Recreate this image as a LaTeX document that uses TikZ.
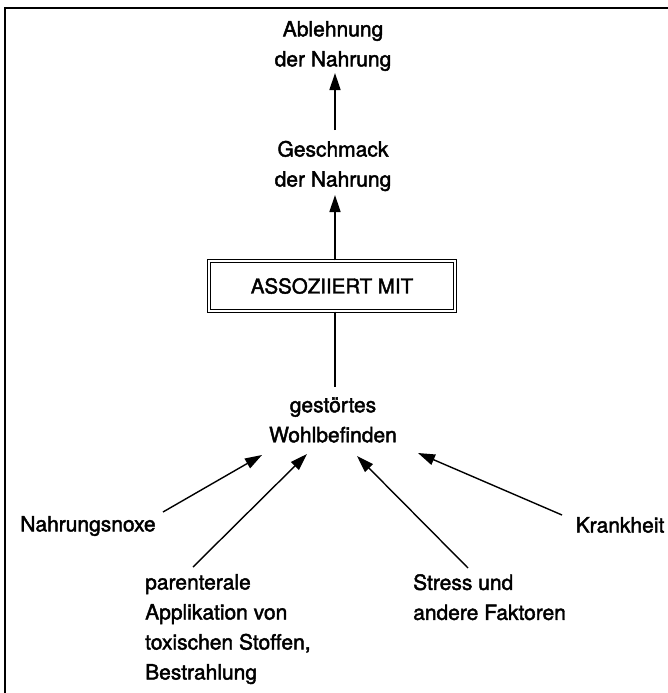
\documentclass[tikz,border=0pt]{standalone}
\usepackage{fontspec}
\setmainfont{TeX Gyre Heros}[FakeBold=2]
\usetikzlibrary{arrows.meta}
\begin{document}
\begin{tikzpicture}[x=1pt,y=-1pt,
  lbl/.style={font=\fontsize{21}{30}\selectfont, align=center, inner sep=0pt},
  lbll/.style={font=\fontsize{21}{30}\selectfont, align=left, inner sep=0pt, anchor=north west},
  ln/.style={line width=1.4pt},
  arr/.style={line width=1.4pt, -{Triangle[length=17pt,width=11pt]}},
  dbox/.style={draw, double, line width=1.1pt, double distance=2.2pt, minimum width=246pt, minimum height=50pt, inner sep=0pt, font=\fontsize{20.5}{24}\selectfont}]
\useasboundingbox (0,0) rectangle (668,693);
\draw[ln] (5,693) -- (5,8) -- (668,8);

\node[lbl] (abl) at (333,46) {Ablehnung\\der Nahrung};
\node[lbl] (gesch) at (333,166) {Geschmack\\der Nahrung};
\node[dbox] (box) at (332,286) {ASSOZIIERT MIT};
\node[lbl] (gest) at (333,420) {gestörtes\\Wohlbefinden};
\node[lbl] (nox) at (88,526) {Nahrungsnoxe};
\node[lbl] (krank) at (620,525) {Krankheit};
\node[lbll] (par) at (145,574) {parenterale\\Applikation von\\toxischen Stoffen,\\Bestrahlung};
\node[lbll] (stress) at (413,574) {Stress und\\andere Faktoren};

\coordinate (ablB) at (335,73);
\coordinate (geschT) at (335,130);
\coordinate (geschB) at (335,195);
\coordinate (gestT) at (335,387);
\coordinate (noxT) at (163,512);
\coordinate (noxE) at (262,455);
\coordinate (parT) at (193,567);
\coordinate (parE) at (307,454);
\coordinate (stressT) at (468,568);
\coordinate (stressE) at (357,456);
\coordinate (krankT) at (562,515);
\coordinate (krankE) at (418,453);

\draw[arr] (geschT) -- (ablB);
\draw[arr] (box.north -| geschB) -- (geschB);
\draw[ln] (box.south -| gestT) -- (gestT);
\draw[arr] (noxT) -- (noxE);
\draw[arr] (parT) -- (parE);
\draw[arr] (stressT) -- (stressE);
\draw[arr] (krankT) -- (krankE);
\end{tikzpicture}
\end{document}
